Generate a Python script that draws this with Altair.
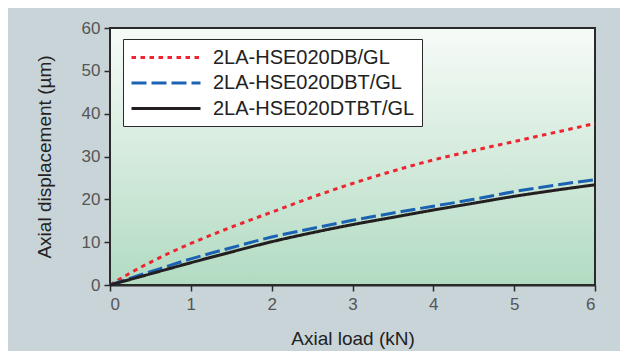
import altair as alt
import pandas as pd

series_names = ["2LA-HSE020DB/GL", "2LA-HSE020DBT/GL", "2LA-HSE020DTBT/GL"]
series_colors = ["#ee2530", "#1b63b2", "#231f20"]
series_dashes = [[4.5, 4.5], [15, 5], [1, 0]]

load_db = [0, 0.25, 0.5, 0.75, 1, 1.5, 2, 2.5, 3, 3.5, 4, 4.5, 5, 5.5, 6]
disp_db = [0, 2.8, 5.3, 7.6, 9.7, 13.5, 17.0, 20.5, 23.7, 26.6, 29.2, 31.4, 33.5, 35.6, 37.7]

load_dbt = [0, 0.5, 1, 1.5, 2, 2.5, 3, 3.5, 4, 4.5, 5, 5.5, 6]
disp_dbt = [0, 3.1, 6.1, 8.7, 11.2, 13.2, 15.1, 16.8, 18.4, 20.0, 21.8, 23.3, 24.6]

load_dtbt = [0, 0.5, 1, 1.5, 2, 2.5, 3, 3.5, 4, 4.5, 5, 5.5, 6]
disp_dtbt = [0, 2.6, 5.2, 7.7, 10.1, 12.2, 14.1, 15.8, 17.5, 19.1, 20.7, 22.1, 23.4]

x_ticks = [0, 1, 2, 3, 4, 5, 6]
y_ticks = [0, 10, 20, 30, 40, 50, 60]

rows = []
for name, xs, ys in zip(series_names, [load_db, load_dbt, load_dtbt], [disp_db, disp_dbt, disp_dtbt]):
    for xv, yv in zip(xs, ys):
        rows.append({"series": name, "load": xv, "disp": yv})
df = pd.DataFrame(rows)

FONT = "Liberation Sans"

gradient = {
    "gradient": "linear",
    "x1": 0, "y1": 0, "x2": 0, "y2": 1,
    "stops": [
        {"offset": 0, "color": "#f7fbf8"},
        {"offset": 1, "color": "#b2dbc2"},
    ],
}

bg = alt.Chart(alt.Data(values=[{}])).mark_rect(
    fill=gradient, stroke="#2a2a2a", strokeWidth=2
).encode(
    x=alt.value(0), x2=alt.value("width"), y=alt.value(0), y2=alt.value("height")
)

legend_def = alt.Legend(title=None, orient="none", legendX=13, legendY=11,
                        direction="vertical")

lines = alt.Chart(df).mark_line(strokeWidth=3, interpolate="monotone").encode(
    x=alt.X("load:Q",
            scale=alt.Scale(domain=[0, 6], nice=False),
            axis=alt.Axis(values=x_ticks, title="Axial load (kN)", labelPadding=5,
                          titlePadding=17, format="d")),
    y=alt.Y("disp:Q",
            scale=alt.Scale(domain=[0, 60], nice=False),
            axis=alt.Axis(values=y_ticks, title="Axial displacement (µm)", labelPadding=4,
                          titlePadding=27, format="d")),
    color=alt.Color("series:N",
                    scale=alt.Scale(domain=series_names, range=series_colors),
                    legend=legend_def),
    strokeDash=alt.StrokeDash("series:N",
                              scale=alt.Scale(domain=series_names, range=series_dashes),
                              legend=legend_def),
    order=alt.Order("load:Q"),
)

chart = alt.layer(bg, lines).properties(
    width=485,
    height=257,
    autosize=alt.AutoSizeParams(type="none"),
    padding={"left": 102, "top": 20, "right": 25, "bottom": 66},
    background="#c9d4d9",
).configure_view(
    stroke=None
).configure_axis(
    grid=False,
    domainColor="#2a2a2a",
    domainWidth=2,
    tickColor="#2a2a2a",
    tickWidth=1.5,
    tickSize=6,
    labelFont=FONT,
    labelFontSize=17,
    labelColor="#555555",
    titleFont=FONT,
    titleFontSize=19,
    titleFontWeight="normal",
    titleColor="#222222",
).configure_legend(
    labelFont=FONT,
    labelFontSize=20,
    labelColor="#222222",
    labelLimit=400,
    symbolType="M-1,0H5.9",
    symbolSize=400,
    symbolStrokeWidth=3,
    symbolFillColor="transparent",
    strokeColor="#2a2a2a",
    fillColor="#ffffff",
    padding=7,
    rowPadding=3.5,
    labelOffset=60,
)

chart.save("out.html", embed_options={"renderer": "svg", "actions": False})
